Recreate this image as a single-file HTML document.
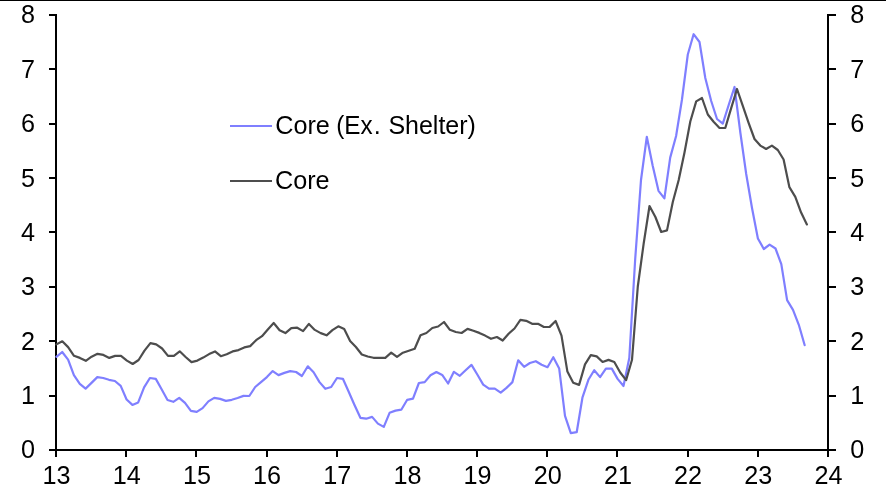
<!DOCTYPE html>
<html><head><meta charset="utf-8"><title>Chart</title>
<style>
html,body{margin:0;padding:0;background:#fff;}
body{width:886px;height:500px;overflow:hidden;font-family:"Liberation Sans",sans-serif;}
svg{display:block;}
svg text{font-family:"Liberation Sans",sans-serif;font-size:25.2px;fill:#000;}
</style></head><body>
<svg width="886" height="500" viewBox="0 0 886 500">
<rect x="0" y="0" width="886" height="500" fill="#fff"/>
<rect x="0" y="0" width="886" height="1" fill="#000"/>
<g stroke="#000" stroke-width="2" fill="none" stroke-linecap="butt">
<line x1="56" y1="14" x2="56" y2="457"/>
<line x1="828" y1="14" x2="828" y2="457"/>
<line x1="49" y1="450" x2="836" y2="450"/>
<line x1="49" y1="15" x2="56" y2="15"/><line x1="49" y1="69" x2="56" y2="69"/><line x1="49" y1="124" x2="56" y2="124"/><line x1="49" y1="178" x2="56" y2="178"/><line x1="49" y1="232" x2="56" y2="232"/><line x1="49" y1="287" x2="56" y2="287"/><line x1="49" y1="341" x2="56" y2="341"/><line x1="49" y1="396" x2="56" y2="396"/><line x1="49" y1="450" x2="56" y2="450"/><line x1="828" y1="15" x2="836" y2="15"/><line x1="828" y1="69" x2="836" y2="69"/><line x1="828" y1="124" x2="836" y2="124"/><line x1="828" y1="178" x2="836" y2="178"/><line x1="828" y1="232" x2="836" y2="232"/><line x1="828" y1="287" x2="836" y2="287"/><line x1="828" y1="341" x2="836" y2="341"/><line x1="828" y1="396" x2="836" y2="396"/><line x1="828" y1="450" x2="836" y2="450"/><line x1="56" y1="450" x2="56" y2="457"/><line x1="126" y1="450" x2="126" y2="457"/><line x1="196" y1="450" x2="196" y2="457"/><line x1="267" y1="450" x2="267" y2="457"/><line x1="337" y1="450" x2="337" y2="457"/><line x1="407" y1="450" x2="407" y2="457"/><line x1="477" y1="450" x2="477" y2="457"/><line x1="547" y1="450" x2="547" y2="457"/><line x1="617" y1="450" x2="617" y2="457"/><line x1="688" y1="450" x2="688" y2="457"/><line x1="758" y1="450" x2="758" y2="457"/><line x1="828" y1="450" x2="828" y2="457"/>
</g>
<polyline fill="none" stroke="#7f7fff" stroke-width="2.2" stroke-linejoin="round" stroke-linecap="round" points="56.4,356.9 62.2,352.0 68.1,359.6 73.9,375.1 79.8,383.8 85.6,388.6 91.5,382.9 97.3,377.1 103.2,378.0 109.0,379.8 114.9,381.0 120.7,385.9 126.6,399.5 132.4,404.9 138.2,402.4 144.1,387.4 149.9,378.0 155.8,378.9 161.6,389.2 167.5,400.0 173.3,401.8 179.2,397.8 185.0,402.9 190.9,410.9 196.7,411.9 202.6,408.1 208.4,401.4 214.2,397.9 220.1,398.9 225.9,400.9 231.8,399.8 237.6,398.0 243.5,395.9 249.3,396.0 255.2,387.0 261.0,382.1 266.9,377.1 272.7,371.1 278.5,375.1 284.4,372.9 290.2,371.1 296.1,372.0 301.9,376.0 307.8,366.3 313.6,372.2 319.5,382.1 325.3,388.8 331.2,387.0 337.0,378.0 342.9,378.8 348.7,391.7 354.5,405.0 360.4,417.8 366.2,418.7 372.1,416.9 377.9,423.6 383.8,426.9 389.6,412.8 395.5,410.6 401.3,409.7 407.2,399.8 413.0,398.7 418.9,383.0 424.7,382.1 430.5,375.2 436.4,372.0 442.2,374.9 448.1,383.5 453.9,371.8 459.8,375.8 465.6,370.3 471.5,364.9 477.3,374.5 483.2,384.6 489.0,388.7 494.8,388.7 500.7,392.7 506.5,387.9 512.4,382.1 518.2,360.3 524.1,366.8 529.9,363.0 535.8,361.2 541.6,364.8 547.5,367.2 553.3,357.2 559.2,368.6 565.0,415.9 570.8,433.1 576.7,432.2 582.5,397.3 588.4,379.8 594.2,370.2 600.1,377.1 605.9,368.6 611.8,368.6 617.6,378.9 623.5,386.0 629.3,358.0 635.2,259.0 641.0,180.0 646.8,136.8 652.7,165.8 658.5,190.8 664.4,198.4 670.2,157.6 676.1,136.0 681.9,100.0 687.8,54.5 693.6,34.2 699.5,42.0 705.3,78.0 711.2,101.0 717.0,119.0 722.8,123.6 728.7,105.0 734.5,87.0 740.4,133.0 746.2,174.0 752.1,208.5 757.9,238.5 763.8,249.0 769.6,244.7 775.5,248.5 781.3,264.2 787.1,300.2 793.0,309.8 798.8,324.8 804.7,345.2"/>
<polyline fill="none" stroke="#4d4d4d" stroke-width="2.2" stroke-linejoin="round" stroke-linecap="round" points="56.4,344.4 62.3,341.3 68.1,347.1 74.0,355.8 79.9,357.9 85.8,360.8 91.6,356.7 97.5,353.8 103.4,354.9 109.3,357.9 115.1,355.9 121.0,355.9 126.9,360.6 132.7,364.0 138.6,360.0 144.5,350.6 150.4,343.1 156.2,344.4 162.1,348.5 168.0,355.9 173.9,355.9 179.7,351.3 185.6,357.0 191.5,362.1 197.4,360.6 203.2,357.6 209.1,354.1 215.0,351.4 220.8,356.2 226.7,354.2 232.6,351.4 238.5,350.1 244.3,347.4 250.2,346.1 256.1,340.2 262.0,336.2 267.8,329.5 273.7,323.0 279.6,330.2 285.4,333.1 291.3,328.1 297.2,327.7 303.1,331.1 308.9,323.9 314.8,329.9 320.7,333.1 326.6,335.3 332.4,330.2 338.3,326.3 344.2,329.0 350.1,341.1 355.9,347.0 361.8,354.5 367.7,356.5 373.5,357.8 379.4,357.8 385.3,357.8 391.2,352.7 397.0,356.9 402.9,352.7 408.8,350.7 414.7,348.8 420.5,335.2 426.4,333.0 432.3,328.0 438.1,326.5 444.0,322.0 449.9,329.8 455.8,332.0 461.6,333.0 467.5,328.9 473.4,330.7 479.3,332.9 485.1,335.6 491.0,338.8 496.9,337.0 502.7,340.5 508.6,333.8 514.5,328.5 520.4,319.9 526.2,320.8 532.1,323.8 538.0,323.8 543.9,327.0 549.7,326.9 555.6,321.0 561.5,335.6 567.4,371.6 573.2,382.8 579.1,384.9 585.0,364.4 590.8,355.1 596.7,356.4 602.6,362.0 608.5,359.9 614.3,362.0 620.2,372.5 626.1,380.2 632.0,359.8 637.8,286.5 643.7,243.4 649.5,206.0 655.4,217.0 661.2,232.0 667.0,230.4 672.8,202.0 678.7,180.0 684.5,152.4 690.3,121.5 696.2,101.4 702.0,98.0 707.8,114.5 713.6,121.8 719.5,128.0 725.3,128.0 731.1,108.4 737.0,89.0 742.8,105.8 748.6,122.8 754.5,139.0 760.3,145.6 766.1,149.0 771.9,145.6 777.8,150.0 783.6,159.5 789.4,187.2 795.3,196.8 801.1,212.6 806.9,224.4"/>
<line x1="230" y1="126" x2="272" y2="126" stroke="#7f7fff" stroke-width="2"/>
<line x1="230" y1="181" x2="272" y2="181" stroke="#4d4d4d" stroke-width="2"/>
<g style="filter:grayscale(1)"><text y="134.2"><tspan x="275.2">Core</tspan><tspan x="336.2" textLength="36.4" lengthAdjust="spacingAndGlyphs">(Ex</tspan><tspan x="373.8">.</tspan><tspan x="388.4" textLength="87.5" lengthAdjust="spacingAndGlyphs">Shelter)</tspan></text><text x="275" y="189.2">Core</text><text x="28.1" y="23.4" text-anchor="middle">8</text><text x="28.1" y="77.8" text-anchor="middle">7</text><text x="28.1" y="132.2" text-anchor="middle">6</text><text x="28.1" y="186.5" text-anchor="middle">5</text><text x="28.1" y="240.9" text-anchor="middle">4</text><text x="28.1" y="295.3" text-anchor="middle">3</text><text x="28.1" y="349.6" text-anchor="middle">2</text><text x="28.1" y="404.0" text-anchor="middle">1</text><text x="28.1" y="458.4" text-anchor="middle">0</text><text x="857.2" y="23.4" text-anchor="middle">8</text><text x="857.2" y="77.8" text-anchor="middle">7</text><text x="857.2" y="132.2" text-anchor="middle">6</text><text x="857.2" y="186.5" text-anchor="middle">5</text><text x="857.2" y="240.9" text-anchor="middle">4</text><text x="857.2" y="295.3" text-anchor="middle">3</text><text x="857.2" y="349.6" text-anchor="middle">2</text><text x="857.2" y="404.0" text-anchor="middle">1</text><text x="857.2" y="458.4" text-anchor="middle">0</text><text x="56.5" y="484" text-anchor="middle">13</text><text x="126.7" y="484" text-anchor="middle">14</text><text x="196.9" y="484" text-anchor="middle">15</text><text x="267.0" y="484" text-anchor="middle">16</text><text x="337.2" y="484" text-anchor="middle">17</text><text x="407.4" y="484" text-anchor="middle">18</text><text x="477.6" y="484" text-anchor="middle">19</text><text x="547.8" y="484" text-anchor="middle">20</text><text x="617.9" y="484" text-anchor="middle">21</text><text x="688.1" y="484" text-anchor="middle">22</text><text x="758.3" y="484" text-anchor="middle">23</text><text x="828.5" y="484" text-anchor="middle">24</text></g>
</svg>
</body></html>
